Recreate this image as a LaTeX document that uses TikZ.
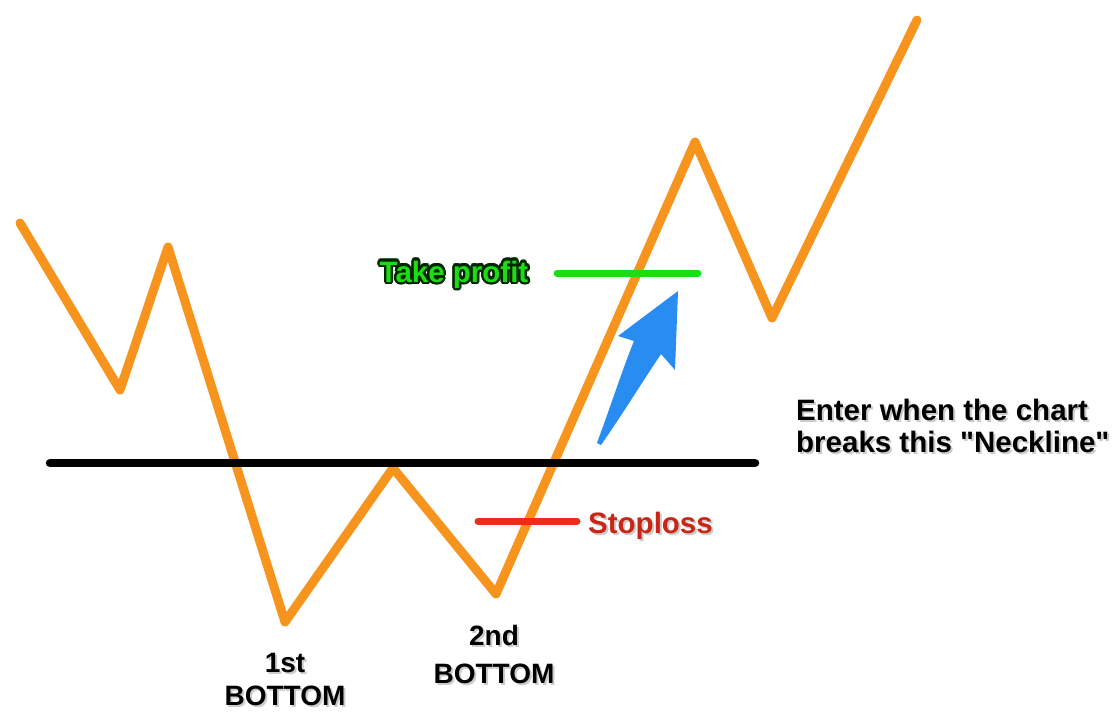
\documentclass[tikz,border=0pt]{standalone}
\usepackage{fontspec}
\setmainfont{Liberation Sans}[Ligatures=TeXOff]
\definecolor{chartorange}{RGB}{247,148,30}
\definecolor{tpgreen}{RGB}{30,220,20}
\definecolor{slred}{RGB}{238,45,25}
\definecolor{arrowblue}{RGB}{40,140,240}
\begin{document}
\begin{tikzpicture}[x=1pt,y=-1pt,
  price/.style={draw=chartorange,line width=9pt,line join=round,line cap=round},
  neck/.style={draw=black,line width=8.5pt,line cap=round},
  tpline/.style={draw=tpgreen,line width=7pt,line cap=round},
  slline/.style={draw=slred,line width=7pt,line cap=round},
  lbl/.style={font=\bfseries\fontsize{29.5}{32}\selectfont,inner sep=0pt,align=center},
  botlbl/.style={font=\bfseries\fontsize{28}{#1}\selectfont,inner sep=0pt,align=center},
  shadow/.style={text=black!25,opacity=0.8}]
\useasboundingbox (0,0) rectangle (1114,715);
% price path vertices
\coordinate (p0) at (20,223);
\coordinate (p1) at (120,390);
\coordinate (p2) at (168,247);
\coordinate (p3) at (285,622);
\coordinate (p4) at (393,468);
\coordinate (p5) at (496,594);
\coordinate (p6) at (695,142);
\coordinate (p7) at (772,318);
\coordinate (p8) at (917,20);
% level line ends
\coordinate (n0) at (50,463);
\coordinate (n1) at (755,463);
\coordinate (t0) at (557,273);
\coordinate (t1) at (698,273);
\coordinate (s0) at (478,521);
\coordinate (s1) at (577,521);
% price
\draw[price] (p0) -- (p1) -- (p2) -- (p3) -- (p4) -- (p5) -- (p6) -- (p7) -- (p8);
% neckline, take profit, stoploss
\draw[neck] (n0) -- (n1);
\draw[tpline] (t0) -- (t1);
\draw[slline] (s0) -- (s1);
% blue arrow
\fill[arrowblue] (597,443) .. controls (611,405) and (623,368) .. (634,341)
  -- (618,336) -- (678,291) -- (675,370) -- (661,354)
  .. controls (641,384) and (620,418) .. (601,445) -- cycle;
% Take profit (outlined green)
\coordinate (tpc) at (454,282);
\foreach \a in {0,20,...,340}{
  \node[lbl,anchor=base,text=black!85!green] at ([shift={(\a:2.4)}]tpc) {Take profit};
}
\node[lbl,anchor=base,text=tpgreen] (tp) at (tpc) {Take profit};
% Stoploss
\node[lbl,anchor=base west,shadow] at (590,535) {Stoploss};
\node[lbl,anchor=base west,text=slred!85!black] (sl) at (588,533) {Stoploss};
% Neckline note
\node[lbl,anchor=base west,shadow,align=left] at (798,454) {Enter when the chart\\breaks this "Neckline"};
\node[lbl,anchor=base west,align=left] (note) at (796,452) {Enter when the chart\\breaks this "Neckline"};
% bottom labels
\node[botlbl=33,anchor=base,shadow] at (287,707) {1st\\BOTTOM};
\node[botlbl=33,anchor=base] (b1) at (285,705) {1st\\BOTTOM};
\node[botlbl=38,anchor=base,shadow] at (496,685) {2nd\\BOTTOM};
\node[botlbl=38,anchor=base] (b2) at (494,683) {2nd\\BOTTOM};
\end{tikzpicture}
\end{document}
